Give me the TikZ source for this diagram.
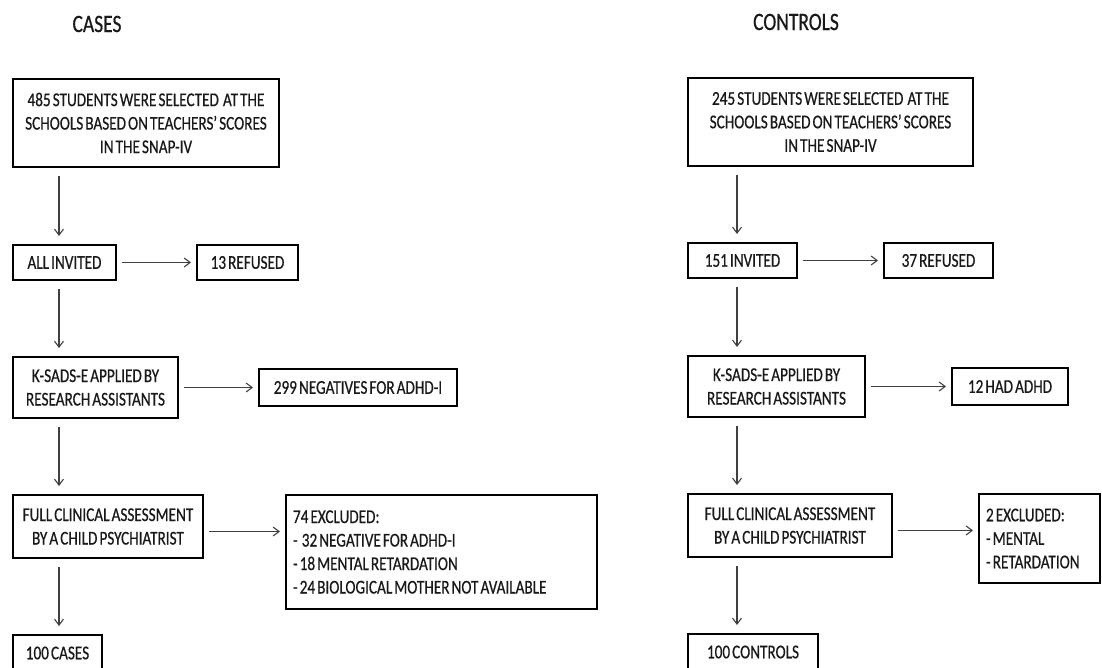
\documentclass[tikz,border=0pt]{standalone}
\usepackage{fontspec}
\setmainfont{Carlito}[FakeStretch=0.78,WordSpace=0.6,FakeBold=0.6]
\usetikzlibrary{arrows.meta}
\usetikzlibrary{positioning}
\newcommand\boxfont{\fontsize{19.5}{23.5}\selectfont}
\newcommand\titlefont{\fontsize{25}{28}\selectfont}
\tikzset {
  box/.style = {
    draw = black,
    line width = 2pt,
    outer sep = 0pt,
    text = black!90,
    inner sep = 0pt,
    align = center,
    font = \boxfont
  },
  % box with a left aligned list
  listbox/.style = {
    box,
    align = flush left,
    inner xsep = 7pt
  },
  title/.style = {
    text = black!90,
    font = \titlefont
  }
}
\tikzset {
  % vertical step arrow
  arr/.style = {
    draw = black!75,
    line width = 1.1pt,
    -{Straight Barb[length=6pt,width=9pt]},
    shorten <= 9pt,
    shorten >= 9pt
  },
  % arrow to a side box
  sidearr/.style = {
    arr,
    shorten <= 6pt,
    shorten >= 6pt
  }
}
\begin{document}
\begin{tikzpicture}[x=1pt, y=-1pt]
    \useasboundingbox (0,0) rectangle (1102,668);
    \clip (0,0) rectangle (1102,668);

    % cases
    \node[title] (casesttl) at (97,24) {CASES};
    \node[box, minimum width=266pt, minimum height=88pt, anchor=north west] (selcases) at (13,79)
      {485 STUDENTS WERE SELECTED\ \ AT THE\\SCHOOLS BASED ON TEACHERS’ SCORES\\IN THE SNAP-IV};
    \node[box, minimum width=103pt, minimum height=35pt] (invcases) [below right=78pt and 0pt of selcases.south west] {ALL INVITED};
    \node[box, minimum width=101pt, minimum height=35pt] (refcases) [right=81pt of invcases] {13 REFUSED};
    \node[box, minimum width=165pt, minimum height=61pt] (ksadscases) [below right=77pt and 0pt of invcases.south west]
      {K-SADS-E APPLIED BY\\RESEARCH ASSISTANTS};
    \node[box, minimum width=198pt, minimum height=37pt] (negcases) [right=81pt of ksadscases] {299 NEGATIVES FOR ADHD-I};
    \node[box, minimum width=190pt, minimum height=63pt] (fullcases) [below right=77pt and 0pt of ksadscases.south west]
      {FULL CLINICAL ASSESSMENT\\BY A CHILD PSYCHIATRIST};
    \node[listbox, text width=297pt, minimum height=114pt] (exclcases) [right=83pt of fullcases.north east, anchor=north west]
      {74 EXCLUDED:\\-\ \ 32 NEGATIVE FOR ADHD-I\\-\ 18 MENTAL RETARDATION\\-\ 24 BIOLOGICAL MOTHER NOT AVAILABLE};
    \node[box, minimum width=89pt, minimum height=36pt] (finalcases) [below right=77pt and 0pt of fullcases.south west] {100 CASES};

    % controls
    \node[title] (ctrlttl) at (796,22) {CONTROLS};
    \node[box, minimum width=285pt, minimum height=88pt, anchor=north west] (selctrl) at (688,78)
      {245 STUDENTS WERE SELECTED\ \ AT THE\\SCHOOLS BASED ON TEACHERS’ SCORES\\IN THE SNAP-IV};
    \node[box, minimum width=109pt, minimum height=35pt] (invctrl) [below right=77pt and 0pt of selctrl.south west] {151 INVITED};
    \node[box, minimum width=109pt, minimum height=35pt] (refctrl) [right=87pt of invctrl] {37 REFUSED};
    \node[box, minimum width=177pt, minimum height=61pt] (ksadsctrl) [below right=78pt and 0pt of invctrl.south west]
      {K-SADS-E APPLIED BY\\RESEARCH ASSISTANTS};
    \node[box, minimum width=116pt, minimum height=37pt] (adhdctrl) [right=87pt of ksadsctrl] {12 HAD ADHD};
    \node[box, minimum width=204pt, minimum height=63pt] (fullctrl) [below right=77pt and 0pt of ksadsctrl.south west]
      {FULL CLINICAL ASSESSMENT\\BY A CHILD PSYCHIATRIST};
    \node[listbox, text width=107pt, minimum height=89pt] (exclctrl) [right=87pt of fullctrl.north east, anchor=north west]
      {2 EXCLUDED:\\-\ MENTAL\\-\ RETARDATION};
    \node[box, minimum width=130pt, minimum height=36pt] (finalctrl) [below right=77pt and 0pt of fullctrl.south west] {100 CONTROLS};

    \draw[arr] ([xshift=46pt]selcases.south west) -- ([xshift=46pt]invcases.north west);
    \draw[arr] ([xshift=46pt]invcases.south west) -- ([xshift=46pt]ksadscases.north west);
    \draw[arr] ([xshift=46pt]ksadscases.south west) -- ([xshift=46pt]fullcases.north west);
    \draw[arr] ([xshift=46pt]fullcases.south west) -- ([xshift=46pt]finalcases.north west);
    \draw[sidearr] (invcases) -- (refcases);
    \draw[sidearr] (ksadscases) -- (negcases);
    \draw[sidearr] ([yshift=-5pt]fullcases.east) -- ([yshift=-5pt]fullcases.east -| exclcases.west);

    \draw[arr] ([xshift=49pt]selctrl.south west) -- ([xshift=49pt]invctrl.north west);
    \draw[arr] ([xshift=49pt]invctrl.south west) -- ([xshift=49pt]ksadsctrl.north west);
    \draw[arr] ([xshift=49pt]ksadsctrl.south west) -- ([xshift=49pt]fullctrl.north west);
    \draw[arr] ([xshift=49pt]fullctrl.south west) -- ([xshift=49pt]finalctrl.north west);
    \draw[sidearr] (invctrl) -- (refctrl);
    \draw[sidearr] (ksadsctrl) -- (adhdctrl);
    \draw[sidearr] ([yshift=-5pt]fullctrl.east) -- ([yshift=-5pt]fullctrl.east -| exclctrl.west);

  \end{tikzpicture}
\end{document}
